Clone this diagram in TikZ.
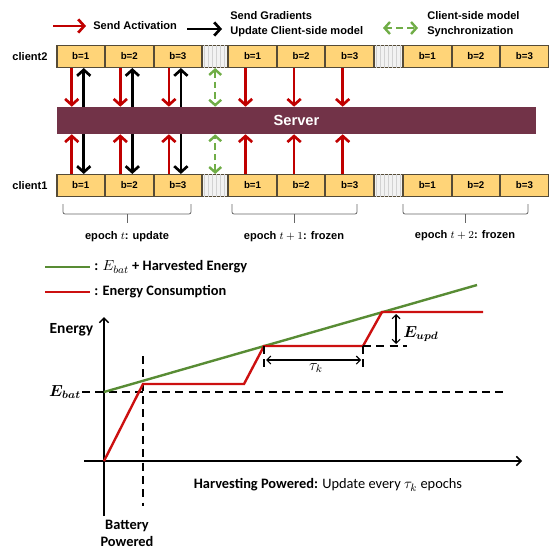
\documentclass[tikz,border=0pt]{standalone}
\usepackage{amsmath,bm}
\usepackage{fontspec}
\setmainfont{Liberation Sans}
\newfontfamily\calfont{Carlito}
\usetikzlibrary{positioning,arrows.meta,calc,patterns}

\definecolor{blkfill}{RGB}{255,212,120}
\definecolor{blkline}{RGB}{85,75,55}
\definecolor{srvcol}{RGB}{114,51,72}
\definecolor{actred}{RGB}{192,0,0}
\definecolor{syncgreen}{RGB}{112,173,71}
\definecolor{harvgreen}{RGB}{88,140,52}
\definecolor{conred}{RGB}{204,16,16}

\newcommand\px{0.75pt}

\tikzset{
  blk/.style={draw=blkline,fill=blkfill,line width=0.8pt,inner sep=0pt,
    minimum width=47.5*\px,minimum height=22*\px,
    font=\fontsize{7.3}{8}\selectfont\bfseries},
  gapblk/.style={draw=blkline,fill=gray!10,line width=0.8pt,inner sep=0pt,
    minimum height=22*\px,
    postaction={pattern=vertical lines,pattern color=gray!35}},
  lbl/.style={font=\fontsize{8.3}{11.25}\selectfont\bfseries,inner sep=0pt,align=left},
  actarr/.style={actred,line width=2pt,-{Straight Barb[length=4.5pt,width=10pt]}},
  gradarr/.style={black,line width=2pt,-{Straight Barb[length=4.5pt,width=10pt]}},
  syncarr/.style={syncgreen,line width=1.8pt,dash pattern=on 5pt off 3pt,
    {Straight Barb[length=4pt,width=9pt]}-{Straight Barb[length=4pt,width=9pt]}},
  bracket/.style={gray!80!black,line width=0.6pt,rounded corners=1.5pt},
  glbl/.style={font=\calfont\fontsize{10.8}{13}\selectfont,inner sep=0pt},
  axisarr/.style={black,line width=1.1pt,-{Straight Barb[length=3.5pt,width=7pt]}},
  thinarr/.style={black,line width=0.8pt,{Straight Barb[length=3pt,width=6pt]}-{Straight Barb[length=3pt,width=6pt]}},
  dashline/.style={black,line width=1.1pt,dash pattern=on 6pt off 4pt},
  harv/.style={harvgreen,line width=1.8pt},
  cons/.style={conred,line width=1.8pt,line join=miter},
}

\begin{document}
\begin{tikzpicture}[x=\px,y=-\px]
\useasboundingbox (0,0) rectangle (550,552);

% legend
\draw[actarr] (53,26) -- (86,26);
\node[lbl,anchor=west] (legact) at (93,26) {Send Activation};
\draw[gradarr] (187,29) -- (222,29);
\node[lbl,anchor=west] (leggrad) at (230,24.5) {Send Gradients\\Update Client-side model};
\draw[syncarr] (383,28) -- (418,28);
\node[lbl,anchor=west] (legsync) at (427,24.5) {Client-side model\\Synchronization};

% client rows
\foreach \r/\y in {2/56.5,1/185.5} {
  \node[blk] (c\r t1) at (80.75,\y) {b=1};
  \node[blk,right=0pt of c\r t1] (c\r t2) {b=2};
  \node[blk,right=0pt of c\r t2] (c\r t3) {b=3};
  \node[gapblk,minimum width=25*\px,right=0pt of c\r t3] (c\r g1) {};
  \node[blk,right=0pt of c\r g1] (c\r u1) {b=1};
  \node[blk,right=0pt of c\r u1] (c\r u2) {b=2};
  \node[blk,right=0pt of c\r u2] (c\r u3) {b=3};
  \node[gapblk,minimum width=28*\px,right=0pt of c\r u3] (c\r g2) {};
  \node[blk,right=0pt of c\r g2] (c\r v1) {b=1};
  \node[blk,right=0pt of c\r v1] (c\r v2) {b=2};
  \node[blk,right=0pt of c\r v2] (c\r v3) {b=3};
}
\node[lbl,left=6.5pt of c2t1] (cl2) {client2};
\node[lbl,left=6.5pt of c1t1] (cl1) {client1};

% server
\node[fill=srvcol,inner sep=0pt,minimum width=479*\px,minimum height=27*\px,
  text=white,font=\fontsize{11}{12}\selectfont\bfseries] (srv) at (296.5,120.5) {Server};

% client <-> server
\foreach \b in {1,2,3} {
  \draw[actarr] ($(c2t\b.south)+(-9,0)$) -- ($(c2t\b.south |- srv.north)+(-9,0)$);
  \draw[gradarr] ($(c2t\b.south |- srv.north)+(3,0)$) -- ($(c2t\b.south)+(3,0)$);
  \draw[actarr] ($(c1t\b.north)+(-9,0)$) -- ($(c1t\b.north |- srv.south)+(-9,0)$);
  \draw[gradarr] ($(c1t\b.north |- srv.south)+(3,0)$) -- ($(c1t\b.north)+(3,0)$);
  \draw[actarr] ($(c2u\b.south)+(-7,0)$) -- ($(c2u\b.south |- srv.north)+(-7,0)$);
  \draw[actarr] ($(c1u\b.north)+(-7,0)$) -- ($(c1u\b.north |- srv.south)+(-7,0)$);
}
\draw[syncarr] (c2g1.south) -- (c2g1.south |- srv.north);
\draw[syncarr] (c1g1.north) -- (c1g1.north |- srv.south);

% epoch brackets
\draw[bracket] (63,204) -- (63,214) -- (191,214) -- (191,204);
\draw[bracket] (127,214) -- (127,223);
\draw[bracket] (232,204) -- (232,214) -- (357,214) -- (357,204);
\draw[bracket] (294,214) -- (294,223);
\draw[bracket] (403,204) -- (403,214) -- (528,214) -- (528,204);
\draw[bracket] (465,214) -- (465,223);
\node[lbl] (ep0) at (127,237) {epoch $t$: update};
\node[lbl] (ep1) at (294,237) {epoch $t+1$: frozen};
\node[lbl] (ep2) at (465,236) {epoch $t+2$: frozen};

% energy legend
\draw[harv] (45,267) -- (90,267);
\node[glbl,anchor=west,font=\calfont\fontsize{10.8}{13}\selectfont\bfseries] (legharv) at (94,267) {: $E_{bat}$ + Harvested Energy};
\draw[cons] (45,292) -- (90,292);
\node[glbl,anchor=west,font=\calfont\fontsize{10.8}{13}\selectfont\bfseries] (legcons) at (94,292) {: Energy Consumption};

% axes
\draw[axisarr] (104,516) -- (104,317);
\draw[axisarr] (84,461) -- (522,461);
\node[glbl,font=\calfont\fontsize{11.6}{13}\selectfont\bfseries] (enlbl) at (71.5,330) {Energy};

% battery level
\draw[dashline] (82,392) -- (507,392);
\node[inner sep=0pt,anchor=east,font=\fontsize{11.5}{13}\selectfont] (ebat) at (81,392) {$\bm{E_{bat}}$};
\draw[dashline] (143,356) -- (143,506);

% energy curves
\draw[harv] (104,392) -- (477,285);
\draw[cons] (104,461) -- (143,384) -- (244,384) -- (264,346) -- (363,346) -- (382,312) -- (483,312);

% update period
\draw[dashline] (264,346) -- (264,372);
\draw[dashline] (363,346) -- (363,372);
\draw[dashline] (363,346) -- (407,346);
\draw[thinarr] (266,360) -- (361,360);
\node[inner sep=0pt,font=\fontsize{11.5}{13}\selectfont] (tau) at (316,368) {$\tau_k$};
\draw[thinarr] (396,314) -- (396,344);
\node[inner sep=0pt,anchor=west,font=\fontsize{11.5}{13}\selectfont] (eupd) at (403,334) {$\bm{E_{upd}}$};

% phase labels
\node[glbl] (harvlbl) at (328,485) {\textbf{Harvesting Powered:} Update every $\tau_k$ epochs};
\node[glbl,align=center,font=\calfont\fontsize{10.8}{12.75}\selectfont\bfseries] (batlbl) at (127,533.5) {Battery\\Powered};
\end{tikzpicture}
\end{document}
